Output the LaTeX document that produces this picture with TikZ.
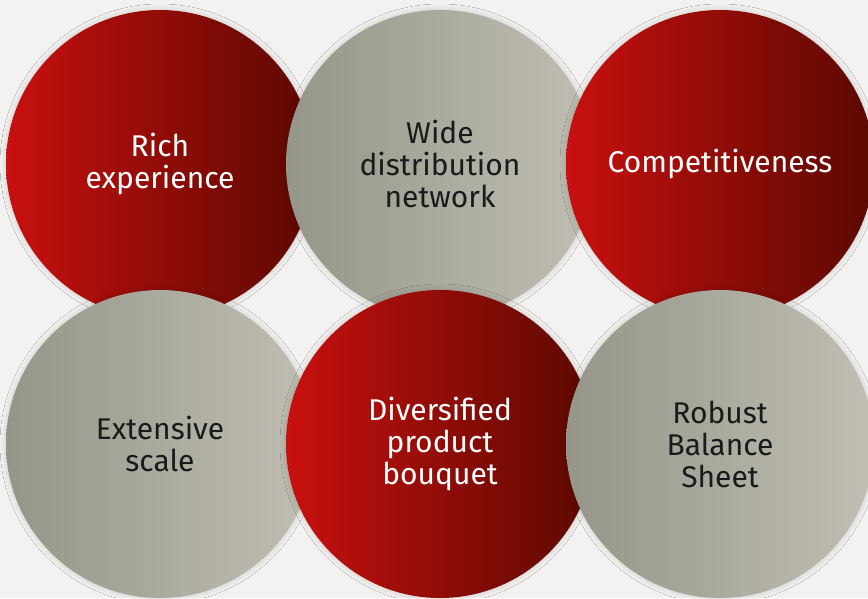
\documentclass[tikz,border=0pt]{standalone}
\usepackage{fontspec}
\setmainfont{Fira Sans}
\usetikzlibrary{positioning, shadows.blur}

\definecolor{bgpaper}{HTML}{F3F2F1}
\definecolor{redlight}{HTML}{C8100F}
\definecolor{reddark}{HTML}{5A0900}
\definecolor{greydark}{HTML}{95958A}
\definecolor{greylight}{HTML}{C1BFB3}
\definecolor{inkdark}{HTML}{1A1A1A}

\begin{document}
\begin{tikzpicture}[ball/.style = {circle, minimum size = 308pt, inner sep = 0pt,
    outer sep = 0pt, align = center, font = \fontsize{30}{32}\selectfont,
    blur shadow = {shadow xshift = 0pt, shadow yshift = 0pt,
      shadow blur radius = 6pt, shadow opacity = 18}},
  redball/.style = {ball, left color = redlight, right color = reddark, text = white},
  greyball/.style = {ball, left color = greydark, right color = greylight, text = inkdark},
  node distance = -28pt and -28pt]

  \fill[bgpaper] (0,0) rectangle (868pt,-598pt);
  \useasboundingbox (0,0) rectangle (868pt,-598pt);
  \clip (0,0) rectangle (868pt,-598pt);

  \node[redball] (rich) at (160pt,-164pt) {Rich\\experience};
  \node[greyball, right = of rich] (wide) {Wide\\distribution\\network};
  \node[redball, right = of wide] (comp) {Competitiveness};

  \node[greyball, below = of rich] (scale) {Extensive\\scale};
  \node[redball, right = of scale] (bouquet) {Diversified\\product\\bouquet};
  \node[greyball, right = of bouquet] (sheet) {Robust\\Balance\\Sheet};
\end{tikzpicture}
\end{document}
